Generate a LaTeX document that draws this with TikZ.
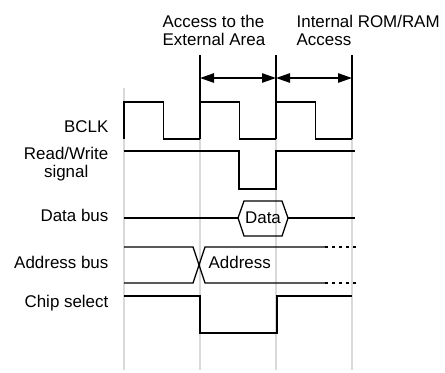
\documentclass[tikz,border=0pt]{standalone}
\usepackage{fontspec}
\setmainfont{Liberation Sans}
\usetikzlibrary{arrows.meta}
\begin{document}
\begin{tikzpicture}[x=0.75pt,y=-0.75pt,line width=0.95pt,
    font=\fontsize{12.7}{13.5}\selectfont,
    guide/.style={black!15,line width=0.8pt},
    span/.style={{Triangle[length=10.5pt,width=7pt]}-{Triangle[length=10.5pt,width=7pt]},line width=1.2pt},
    sig/.style={anchor=base east,inner sep=0pt,align=center},
    head/.style={anchor=base west,inner sep=0pt,align=left}]
    \useasboundingbox (0,0) rectangle (445,372);
    % thin guides for the clock edges
    \foreach \x in {124,200,276,352}
      \draw[guide] (\x,88) -- (\x,370);
    % markers of the two accesses
    \foreach \x/\n in {200/b,276/c,352/d} {
      \draw (\x,55) -- (\x,139);
      \coordinate (m\n) at (\x,78);}
    \draw[span] (mb) -- (mc);
    \draw[span] (mc) -- (md);
    \node[head] (ext) at (162,45) {Access to the\\External Area};
    \node[head] (int) at (296,45) {Internal ROM/RAM\\Access};

    % BCLK
    \foreach \x in {124,200,276}
      \draw (\x,139) -- (\x,102) -- ++(39.5,0) -- ++(0,37) -- ++(36.5,0);
    % Read/Write
    \draw (124,151) -- (239,151) -- (239,189) -- (276,189) -- (276,151) -- (355,151);
    % Data bus
    \draw (124,218) -- (238,218);
    \draw (238,218) -- (244,201) -- (282,201) -- (288,218) -- (282,236) -- (244,236) -- cycle;
    \draw (288,218) -- (355,218);
    \node[inner sep=0pt,anchor=base] (data) at (263,223) {Data};
    % Address bus
    \draw (124,247) -- (193,247) -- (205,283) -- (325,283);
    \draw (124,283) -- (193,283) -- (205,247) -- (325,247);
    \foreach \y in {247,283}
      \draw[dash pattern=on 2.4pt off 2.8pt] (325,\y) -- (358,\y);
    \node[inner sep=0pt,anchor=base west] (addr) at (208,268) {Address};
    % Chip select
    \draw (124,296) -- (200,296) -- (200,333) -- (277,333) -- (277,296) -- (352,296);

    \node[sig] (bclk) at (109,132) {BCLK};
    \node[sig] (rw) at (109,177) {Read/Write\\signal};
    \node[sig] (dbus) at (109,221) {Data bus};
    \node[sig] (abus) at (109,268) {Address bus};
    \node[sig] (cs) at (109,307) {Chip select};
  \end{tikzpicture}
\end{document}
